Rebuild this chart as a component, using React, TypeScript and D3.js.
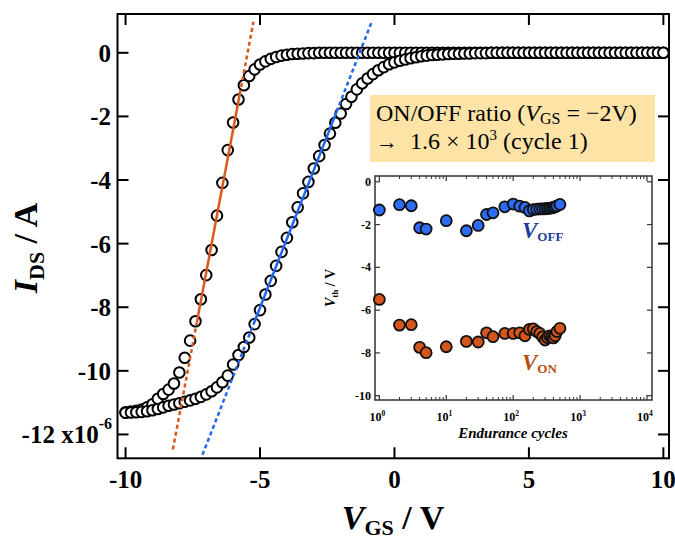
import React from "react";
import * as d3 from "d3";

// gate sweep, -10 V to +10 V in 0.2 V steps
const sweepStart = -10;
const sweepStep = 0.2;

// I_DS (x1e-6 A), first sweep (left curve)
const idsLeft = [
  -11.30, -11.28, -11.26, -11.22, -11.15,
  -11.05, -10.88, -10.73, -10.59, -10.40,
  -10.05, -9.59, -9.05, -8.44, -7.75,
  -6.99, -6.20, -5.12, -4.09, -3.06,
  -2.19, -1.47, -1.02, -0.73, -0.52,
  -0.37, -0.27, -0.19, -0.13, -0.09,
  -0.06, -0.04, -0.03, -0.02, -0.01,
  -0.01, 0, 0, 0, 0,
  0, 0, 0, 0, 0, 0, 0, 0, 0, 0,
  0, 0, 0, 0, 0, 0, 0, 0, 0, 0,
  0, 0, 0, 0, 0, 0, 0, 0, 0, 0,
  0, 0, 0, 0, 0, 0, 0, 0, 0, 0,
  0, 0, 0, 0, 0, 0, 0, 0, 0, 0,
  0, 0, 0, 0, 0, 0, 0, 0, 0, 0,
  0,
];

// I_DS (x1e-6 A), second sweep (right curve)
const idsRight = [
  -11.32, -11.31, -11.30, -11.29, -11.27,
  -11.24, -11.20, -11.15, -11.10, -11.06,
  -11.02, -10.97, -10.93, -10.88, -10.82,
  -10.74, -10.64, -10.52, -10.36, -10.15,
  -9.80, -9.50, -9.25, -8.95, -8.53,
  -8.09, -7.60, -7.17, -6.70, -6.26,
  -5.82, -5.33, -4.86, -4.42, -4.06,
  -3.64, -3.25, -2.90, -2.54, -2.20,
  -1.91, -1.61, -1.38, -1.15, -0.96,
  -0.81, -0.67, -0.55, -0.45, -0.36,
  -0.30, -0.25, -0.21, -0.17, -0.14,
  -0.11, -0.09, -0.07, -0.06, -0.05,
  -0.04, -0.03, -0.03, -0.02, -0.02,
  -0.01, -0.01, -0.01, 0, 0,
  0, 0, 0, 0, 0, 0, 0, 0, 0, 0,
  0, 0, 0, 0, 0, 0, 0, 0, 0, 0,
  0, 0, 0, 0, 0, 0, 0, 0, 0, 0,
  0,
];

// linear fits: [dash start, solid start, solid end, dash end]
const onFitX = [-8.24, -7.35, -5.75, -5.245];
const onFitY = [-12.47, -8.48, -1.29, 0.975];
const offFitX = [-7.14, -5.25, -2.15, -0.845];
const offFitY = [-12.64, -8.55, -1.85, 0.975];

const xTicks = [-10, -5, 0, 5, 10];
const yTicks = [0, -2, -4, -6, -8, -10, -12];

// inset: threshold voltage vs endurance cycles
const cycles = [1, 2, 3, 4, 5, 10, 20, 30, 40, 50, 75, 100, 125, 150, 175, 200, 225, 250, 275, 300, 325, 350, 375, 400, 425, 450, 500];
const vOff = [-1.32, -1.07, -1.12, -2.15, -2.21, -1.82, -2.29, -2.04, -1.53, -1.45, -1.17, -1.04, -1.14, -1.2, -1.36, -1.3, -1.28, -1.27, -1.27, -1.26, -1.25, -1.24, -1.22, -1.2, -1.17, -1.13, -1.06];
const vOn = [-5.5, -6.7, -6.68, -7.74, -7.99, -7.71, -7.46, -7.49, -7.06, -7.24, -7.09, -7.09, -7.06, -7.2, -6.9, -6.88, -7.0, -7.09, -7.25, -7.4, -7.28, -7.2, -7.25, -7.3, -7.2, -7.0, -6.85];
const insetXTicks = [1, 10, 100, 1000, 10000];
const insetYTicks = [0, -2, -4, -6, -8, -10];

const serif = "'Liberation Serif', 'Times New Roman', serif";
const orange = "#d9581c";
const blue = "#2266f0";

export default function App() {
  const W = 675, H = 542;
  const x = d3.scaleLinear().domain([-10.3, 10.21]).range([117.5, 669]);
  const y = d3.scaleLinear().domain([1.22, -12.75]).range([14, 458.3]);
  const [x0, x1] = x.range();
  const [y0, y1] = y.range();

  const vgs = idsLeft.map((_, i) => sweepStart + i * sweepStep);

  const ix = d3.scaleLog().domain([0.861, 11885]).range([375, 652]);
  const iy = d3.scaleLinear().domain([0.27, -10.2]).range([176, 400]);
  const [ix0, ix1] = ix.range();
  const [iy0, iy1] = iy.range();
  const minor: number[] = [];
  [1, 10, 100, 1000].forEach(d => { for (let k = 2; k <= 9; k++) minor.push(d * k); });

  const fitLine = (xs: number[], ys: number[], a: number, b: number) =>
    d3.line()([[x(xs[a]), y(ys[a])], [x(xs[b]), y(ys[b])]]) || "";

  return (
    <svg width={W} height={H} style={{ position: "absolute", left: 0, top: 0, background: "#fff" }} fontFamily={serif}>
      {/* main frame & ticks */}
      <rect x={x0} y={y0} width={x1 - x0} height={y1 - y0} fill="none" stroke="#000" strokeWidth={2} />
      {xTicks.map(t => (
        <g key={"xt" + t}>
          <line x1={x(t)} x2={x(t)} y1={y1} y2={y1 - 11} stroke="#000" strokeWidth={2} />
          <line x1={x(t)} x2={x(t)} y1={y0} y2={y0 + 11} stroke="#000" strokeWidth={2} />
          <text x={x(t)} y={488} textAnchor="middle" fontSize={25} fontWeight="bold">{t}</text>
        </g>
      ))}
      {yTicks.map(t => (
        <g key={"yt" + t}>
          <line x1={x0} x2={x0 + 11} y1={y(t)} y2={y(t)} stroke="#000" strokeWidth={2} />
          <line x1={x1} x2={x1 - 11} y1={y(t)} y2={y(t)} stroke="#000" strokeWidth={2} />
          {t === -12 ? (
            <text x={112} y={y(t) + 9} textAnchor="end" fontSize={25} fontWeight="bold">
              -12 x10<tspan fontSize={16} dy={-14}>-6</tspan>
            </text>
          ) : (
            <text x={111} y={y(t) + 9} textAnchor="end" fontSize={25} fontWeight="bold">{t}</text>
          )}
        </g>
      ))}

      {/* axis titles */}
      <text transform="translate(37,248) rotate(-90)" textAnchor="middle" fontSize={34} fontWeight="bold">
        <tspan fontStyle="italic">I</tspan>
        <tspan fontSize={22} dy={7}>DS</tspan>
        <tspan dy={-7}> / A</tspan>
      </text>
      <text x={393} y={529} textAnchor="middle" fontSize={34} fontWeight="bold">
        <tspan fontStyle="italic">V</tspan>
        <tspan fontSize={22} dy={6}>GS</tspan>
        <tspan dy={-6}> / V</tspan>
      </text>

      {/* transfer curves */}
      {[idsLeft, idsRight].map((ser, si) => (
        <g key={"s" + si}>
          {ser.map((v, i) => (
            <circle key={i} cx={x(vgs[i])} cy={y(v)} r={5.3} fill="#fff" stroke="#000" strokeWidth={2} />
          ))}
        </g>
      ))}

      {/* linear fits */}
      <path d={fitLine(onFitX, onFitY, 0, 1)} stroke={orange} strokeWidth={2.5} strokeDasharray="4,3" fill="none" />
      <path d={fitLine(onFitX, onFitY, 1, 2)} stroke={orange} strokeWidth={2.5} fill="none" />
      <path d={fitLine(onFitX, onFitY, 2, 3)} stroke={orange} strokeWidth={2.5} strokeDasharray="4,3" fill="none" />
      <path d={fitLine(offFitX, offFitY, 0, 1)} stroke={blue} strokeWidth={2.5} strokeDasharray="4,3" fill="none" />
      <path d={fitLine(offFitX, offFitY, 1, 2)} stroke={blue} strokeWidth={2.5} fill="none" />
      <path d={fitLine(offFitX, offFitY, 2, 3)} stroke={blue} strokeWidth={2.5} strokeDasharray="4,3" fill="none" />

      {/* annotation */}
      <rect x={370} y={95} width={285} height={67} fill="#fde3a6" />
      <text x={376} y={121} fontSize={24}>
        ON/OFF ratio (<tspan fontStyle="italic">V</tspan><tspan fontSize={16} dy={3}>GS</tspan><tspan dy={-3}> = −2V)</tspan>
      </text>
      <text x={376} y={149} fontSize={24}>
        <tspan fontSize={22}>→</tspan><tspan x={410}>1.6 × 10</tspan><tspan fontSize={15} dy={-9}>3</tspan><tspan dy={9}> (cycle 1)</tspan>
      </text>

      {/* inset */}
      <rect x={ix0} y={iy0} width={ix1 - ix0} height={iy1 - iy0} fill="#fff" stroke="#333" strokeWidth={1.5} />
      {insetXTicks.map(t => (
        <g key={"ixt" + t}>
          <line x1={ix(t)} x2={ix(t)} y1={iy1} y2={iy1 - 5} stroke="#333" strokeWidth={1.2} />
          <line x1={ix(t)} x2={ix(t)} y1={iy0} y2={iy0 + 5} stroke="#333" strokeWidth={1.2} />
          <text x={ix(t) - 2} y={421} textAnchor="middle" fontSize={12} fontWeight="bold">
            10<tspan fontSize={7.5} dy={-5}>{Math.round(Math.log10(t))}</tspan>
          </text>
        </g>
      ))}
      {minor.map(t => (
        <g key={"im" + t}>
          <line x1={ix(t)} x2={ix(t)} y1={iy1} y2={iy1 - 3} stroke="#333" strokeWidth={1} />
          <line x1={ix(t)} x2={ix(t)} y1={iy0} y2={iy0 + 3} stroke="#333" strokeWidth={1} />
        </g>
      ))}
      {insetYTicks.map(t => (
        <g key={"iyt" + t}>
          <line x1={ix0} x2={ix0 + 5} y1={iy(t)} y2={iy(t)} stroke="#333" strokeWidth={1.2} />
          <line x1={ix1} x2={ix1 - 5} y1={iy(t)} y2={iy(t)} stroke="#333" strokeWidth={1.2} />
          <text x={371} y={iy(t) + 4} textAnchor="end" fontSize={12} fontWeight="bold">{t}</text>
        </g>
      ))}
      <text x={513} y={438} textAnchor="middle" fontSize={15} fontWeight="bold" fontStyle="italic">Endurance cycles</text>
      <text transform="translate(335,288) rotate(-90)" textAnchor="middle" fontSize={14} fontWeight="bold">
        <tspan fontStyle="italic">V</tspan><tspan fontSize={9} dy={3}>th</tspan><tspan dy={-3}> / V</tspan>
      </text>
      {cycles.map((c, i) => (
        <circle key={"off" + i} cx={ix(c)} cy={iy(vOff[i])} r={5.5} fill="#2e6cf5" stroke="#111" strokeWidth={1.8} />
      ))}
      {cycles.map((c, i) => (
        <circle key={"on" + i} cx={ix(c)} cy={iy(vOn[i])} r={5.5} fill="#d4561a" stroke="#111" strokeWidth={1.8} />
      ))}
      <text x={522} y={238} fontSize={23} fontWeight="bold" fill="#1f3c9c">
        <tspan fontStyle="italic">V</tspan><tspan fontSize={13} dy={3}>OFF</tspan>
      </text>
      <text x={522} y={370} fontSize={23} fontWeight="bold" fill="#b4500f">
        <tspan fontStyle="italic">V</tspan><tspan fontSize={13} dy={3}>ON</tspan>
      </text>
    </svg>
  );
}
